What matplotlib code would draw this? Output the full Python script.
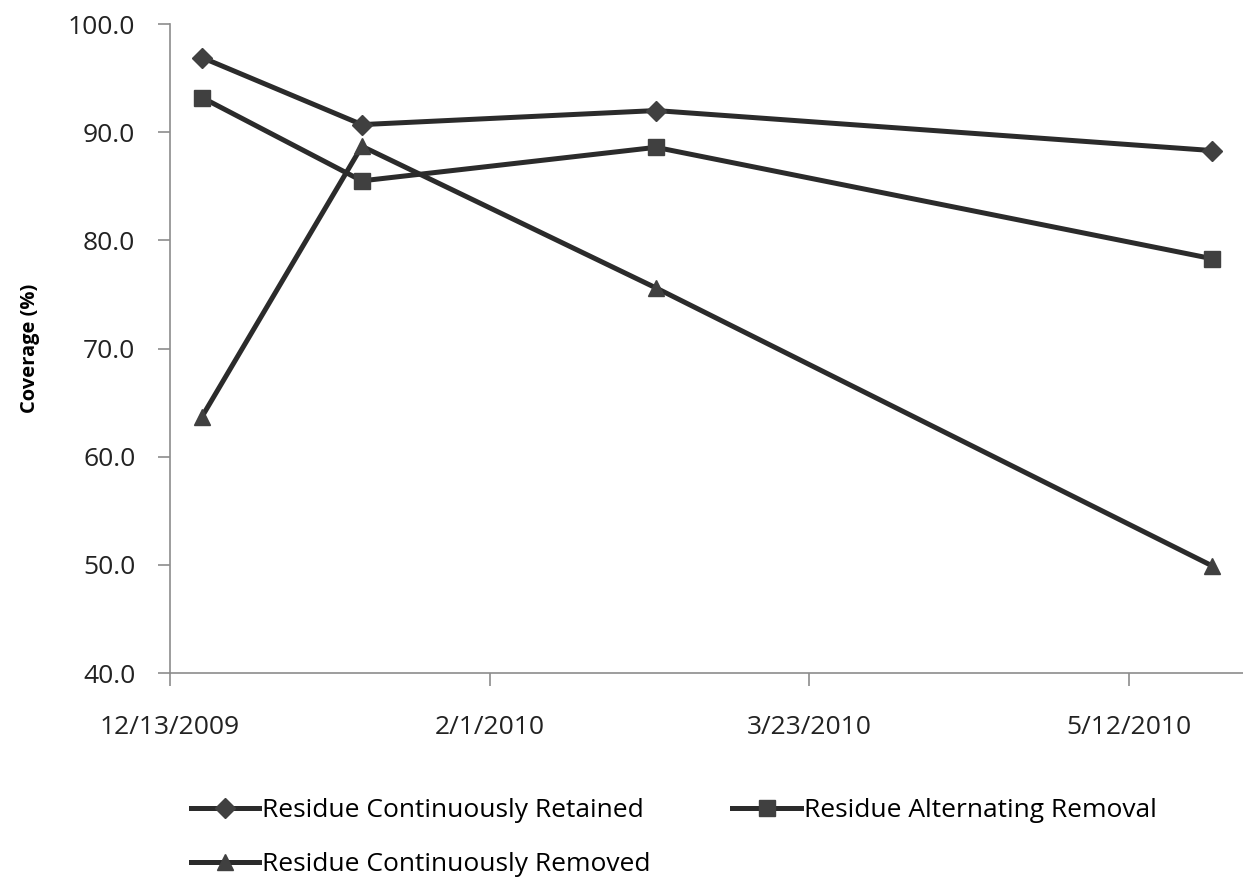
import matplotlib
matplotlib.use('Agg')
import matplotlib.pyplot as plt
import matplotlib.dates as mdates
from datetime import date

# sampling dates and coverage values (%)
dates = [date(2009, 12, 18), date(2010, 1, 12), date(2010, 2, 27), date(2010, 5, 25)]
retained = [96.9, 90.7, 92.0, 88.3]
alternating = [93.2, 85.5, 88.6, 78.3]
removed = [63.7, 88.7, 75.6, 49.9]

tick_dates = [date(2009, 12, 13), date(2010, 2, 1), date(2010, 3, 23), date(2010, 5, 12)]
tick_labels = ['12/13/2009', '2/1/2010', '3/23/2010', '5/12/2010']

plt.rcParams['font.family'] = ['Open Sans', 'DejaVu Sans']

fig = plt.figure(figsize=(12.43, 8.83), dpi=100)
ax = fig.add_axes([0.1368, 0.2378, 0.8632, 0.735])

col = '#2b2b2b'
mcol = '#404040'
l1, = ax.plot(dates, retained, color=col, lw=3.6, marker='D', ms=10, mfc=mcol, mec=mcol,
              label='Residue Continuously Retained')
l2, = ax.plot(dates, alternating, color=col, lw=3.6, marker='s', ms=11, mfc=mcol, mec=mcol,
              label='Residue Alternating Removal')
l3, = ax.plot(dates, removed, color=col, lw=3.6, marker='^', ms=12, mfc=mcol, mec=mcol,
              label='Residue Continuously Removed')

ax.set_ylim(40, 100)
ax.set_yticks(range(40, 101, 10))
ax.set_yticklabels(['%.1f' % v for v in range(40, 101, 10)])
ax.set_xlim(mdates.date2num(date(2009, 12, 13)), mdates.date2num(date(2009, 12, 13)) + 167.8)
ax.set_xticks([mdates.date2num(d) for d in tick_dates])
ax.set_xticklabels(tick_labels)

for s in ['top', 'right']:
    ax.spines[s].set_visible(False)
for s in ['left', 'bottom']:
    ax.spines[s].set_color('#8c8c8c')
    ax.spines[s].set_linewidth(1.2)
ax.tick_params(axis='both', colors='#8c8c8c', labelcolor='#222222', labelsize=19,
               length=9, width=1.2)
ax.tick_params(axis='x', pad=21)
ax.tick_params(axis='y', pad=16)

ax.set_ylabel('Coverage (%)', fontsize=14.5, fontweight='bold', labelpad=20)

# legend fills row by row in the reference: reorder for matplotlib's column fill
fig.legend([l1, l3, l2], [l1.get_label(), l3.get_label(), l2.get_label()],
           loc='upper left', bbox_to_anchor=(0.145, 0.108), ncol=2, frameon=False,
           fontsize=19, handlelength=2.6, handletextpad=0.1, columnspacing=3.1,
           labelspacing=1.1, borderaxespad=0)

fig.savefig('out.png', dpi=100)
